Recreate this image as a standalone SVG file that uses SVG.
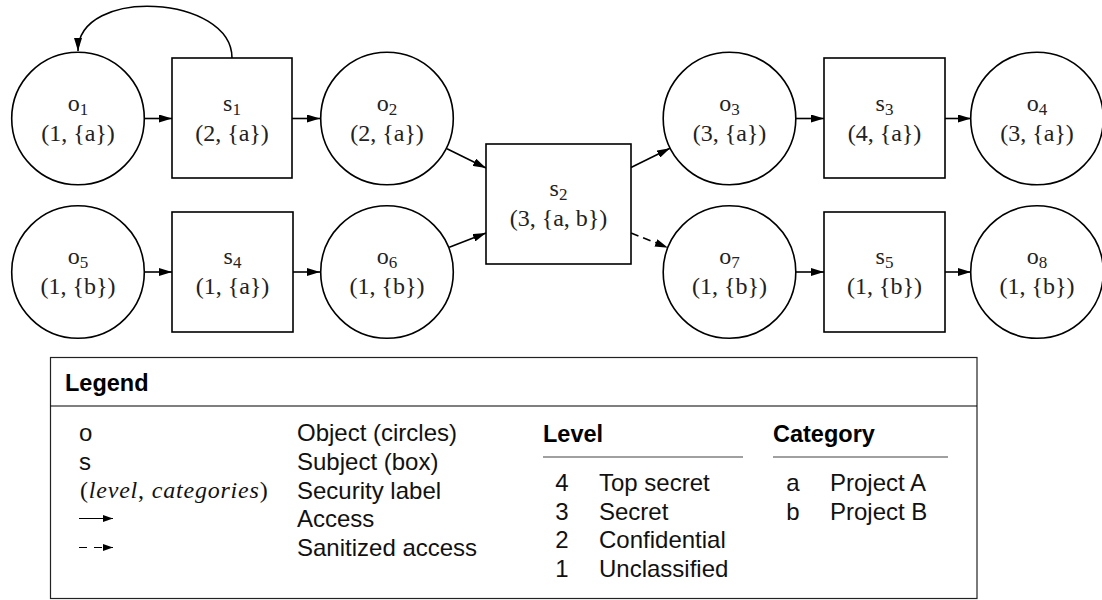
<svg xmlns="http://www.w3.org/2000/svg" width="1102" height="600" viewBox="0 0 1102 600">
  <style>
    .node { fill: #fff; stroke: #000; stroke-width: 1.6; }
    .lbl { font-family: "Liberation Serif", "Times New Roman", serif; font-size: 24px; fill: #222; text-anchor: middle; }
    .sub { font-size: 17px; }
    .edge { fill: none; stroke: #000; stroke-width: 1.6; }
    .dash { stroke-dasharray: 8 5; }
    .lg { font-family: "Liberation Sans", Arial, sans-serif; font-size: 24px; fill: #111; }
    .lgb { font-family: "Liberation Sans", Arial, sans-serif; font-size: 23.5px; font-weight: bold; fill: #000; }
    .mid { text-anchor: middle; }
    .math { font-family: "Liberation Serif", "Times New Roman", serif; font-size: 24px; fill: #111; letter-spacing: 0.8px; }
    .lgline { fill: none; stroke: #000; stroke-width: 1.2; }
  </style>
  <defs>
    <marker id="arr" viewBox="0 0 13 8" markerUnits="userSpaceOnUse" markerWidth="13" markerHeight="8" refX="13" refY="4" orient="auto">
      <path d="M0,0 L13,4 L0,8 z" fill="#000"/>
    </marker>
    <marker id="arrs" viewBox="0 0 10 7" markerUnits="userSpaceOnUse" markerWidth="10" markerHeight="7" refX="10" refY="3.5" orient="auto">
      <path d="M0,0 L10,3.5 L0,7 z" fill="#000"/>
    </marker>
  </defs>

  <g id="connectors">
    <path class="edge" d="M232,58 C232,-5 78,-14 78,51" marker-end="url(#arr)"/>
    <line class="edge" x1="145" y1="118.5" x2="172" y2="118.5" marker-end="url(#arr)"/>
    <line class="edge" x1="292" y1="118.5" x2="320" y2="118.5" marker-end="url(#arr)"/>
    <line class="edge" x1="447" y1="148.7" x2="486" y2="168" marker-end="url(#arr)"/>
    <line class="edge" x1="449.3" y1="247.3" x2="486" y2="233" marker-end="url(#arr)"/>
    <line class="edge" x1="631" y1="167.5" x2="670" y2="148.3" marker-end="url(#arr)"/>
    <line class="edge dash" x1="631" y1="233" x2="668" y2="247.7" marker-end="url(#arr)"/>
    <line class="edge" x1="796" y1="118.5" x2="824" y2="118.5" marker-end="url(#arr)"/>
    <line class="edge" x1="945" y1="118.5" x2="971" y2="118.5" marker-end="url(#arr)"/>
    <line class="edge" x1="145" y1="272" x2="172" y2="272" marker-end="url(#arr)"/>
    <line class="edge" x1="293" y1="272" x2="320" y2="272" marker-end="url(#arr)"/>
    <line class="edge" x1="796" y1="272" x2="824" y2="272" marker-end="url(#arr)"/>
    <line class="edge" x1="945" y1="272" x2="971" y2="272" marker-end="url(#arr)"/>
  </g>

  <g id="o1">
    <circle class="node" cx="78" cy="118.5" r="66.3"/>
    <text class="lbl" x="78" y="110.5">o<tspan class="sub" dy="4">1</tspan></text>
    <text class="lbl" x="78" y="140.5">(1, {a})</text>
  </g>
  <g id="s1">
    <rect class="node" x="172" y="58" width="120" height="120"/>
    <text class="lbl" x="232" y="110.5">s<tspan class="sub" dy="4">1</tspan></text>
    <text class="lbl" x="232" y="140.5">(2, {a})</text>
  </g>
  <g id="o2">
    <circle class="node" cx="387" cy="118.5" r="66.3"/>
    <text class="lbl" x="387" y="110.5">o<tspan class="sub" dy="4">2</tspan></text>
    <text class="lbl" x="387" y="140.5">(2, {a})</text>
  </g>
  <g id="s2">
    <rect class="node" x="486" y="144" width="145" height="120"/>
    <text class="lbl" x="558.5" y="196">s<tspan class="sub" dy="4">2</tspan></text>
    <text class="lbl" x="558.5" y="226">(3, {a, b})</text>
  </g>
  <g id="o3">
    <circle class="node" cx="729.5" cy="118.5" r="66.3"/>
    <text class="lbl" x="729.5" y="110.5">o<tspan class="sub" dy="4">3</tspan></text>
    <text class="lbl" x="729.5" y="140.5">(3, {a})</text>
  </g>
  <g id="s3">
    <rect class="node" x="824" y="58" width="121" height="120"/>
    <text class="lbl" x="884.5" y="110.5">s<tspan class="sub" dy="4">3</tspan></text>
    <text class="lbl" x="884.5" y="140.5">(4, {a})</text>
  </g>
  <g id="o4">
    <circle class="node" cx="1037" cy="118.5" r="66.3"/>
    <text class="lbl" x="1037" y="110.5">o<tspan class="sub" dy="4">4</tspan></text>
    <text class="lbl" x="1037" y="140.5">(3, {a})</text>
  </g>
  <g id="o5">
    <circle class="node" cx="78" cy="272" r="66.3"/>
    <text class="lbl" x="78" y="264">o<tspan class="sub" dy="4">5</tspan></text>
    <text class="lbl" x="78" y="294">(1, {b})</text>
  </g>
  <g id="s4">
    <rect class="node" x="172" y="212" width="121" height="120"/>
    <text class="lbl" x="232.5" y="264">s<tspan class="sub" dy="4">4</tspan></text>
    <text class="lbl" x="232.5" y="294">(1, {a})</text>
  </g>
  <g id="o6">
    <circle class="node" cx="387" cy="272" r="66.3"/>
    <text class="lbl" x="387" y="264">o<tspan class="sub" dy="4">6</tspan></text>
    <text class="lbl" x="387" y="294">(1, {b})</text>
  </g>
  <g id="o7">
    <circle class="node" cx="729.5" cy="272" r="66.3"/>
    <text class="lbl" x="729.5" y="264">o<tspan class="sub" dy="4">7</tspan></text>
    <text class="lbl" x="729.5" y="294">(1, {b})</text>
  </g>
  <g id="s5">
    <rect class="node" x="824" y="212" width="121" height="120"/>
    <text class="lbl" x="884.5" y="264">s<tspan class="sub" dy="4">5</tspan></text>
    <text class="lbl" x="884.5" y="294">(1, {b})</text>
  </g>
  <g id="o8">
    <circle class="node" cx="1037" cy="272" r="66.3"/>
    <text class="lbl" x="1037" y="264">o<tspan class="sub" dy="4">8</tspan></text>
    <text class="lbl" x="1037" y="294">(1, {b})</text>
  </g>

  <g id="legend">
    <rect x="50.5" y="357.5" width="926.5" height="241" fill="#fff" stroke="#222" stroke-width="1.2"/>
    <line x1="50.5" y1="406" x2="977" y2="406" stroke="#000" stroke-width="1.2"/>
    <text class="lgb" x="65" y="391">Legend</text>

    <text class="lg" x="79" y="441">o</text>
    <text class="lg" x="79" y="470">s</text>
    <text class="math" x="80" y="498">(<tspan font-style="italic">level</tspan>, <tspan font-style="italic">categories</tspan>)</text>
    <line class="lgline" x1="79" y1="518.5" x2="113" y2="518.5" marker-end="url(#arrs)"/>
    <line class="lgline" x1="79" y1="547.5" x2="113" y2="547.5" stroke-dasharray="8 7" marker-end="url(#arrs)"/>

    <text class="lg" x="297" y="441">Object (circles)</text>
    <text class="lg" x="297" y="470">Subject (box)</text>
    <text class="lg" x="297" y="499">Security label</text>
    <text class="lg" x="297" y="527">Access</text>
    <text class="lg" x="297" y="556">Sanitized access</text>

    <text class="lgb" x="543" y="442">Level</text>
    <line x1="543" y1="457" x2="743" y2="457" stroke="#808080" stroke-width="1.5"/>
    <text class="lg mid" x="562" y="491">4</text>
    <text class="lg" x="599" y="491">Top secret</text>
    <text class="lg mid" x="562" y="519.5">3</text>
    <text class="lg" x="599" y="519.5">Secret</text>
    <text class="lg mid" x="562" y="548">2</text>
    <text class="lg" x="599" y="548">Confidential</text>
    <text class="lg mid" x="562" y="577">1</text>
    <text class="lg" x="599" y="577">Unclassified</text>

    <text class="lgb" x="773" y="442">Category</text>
    <line x1="773" y1="457" x2="948" y2="457" stroke="#808080" stroke-width="1.5"/>
    <text class="lg mid" x="793" y="491">a</text>
    <text class="lg" x="830" y="491">Project A</text>
    <text class="lg mid" x="793" y="519.5">b</text>
    <text class="lg" x="830" y="519.5">Project B</text>
  </g>
</svg>
